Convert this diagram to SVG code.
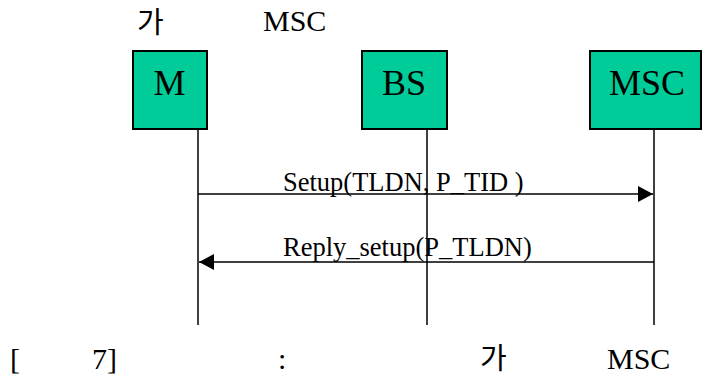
<svg xmlns="http://www.w3.org/2000/svg" width="709" height="380" viewBox="0 0 709 380">
<style>
.box{fill:#00CC99;stroke:#000;stroke-width:2}
.life{stroke:#000;stroke-width:1.5;fill:none}
.msg{stroke:#000;stroke-width:1.5;fill:none}
.lbl{font-family:"Liberation Serif",serif;font-size:36px;fill:#000;text-anchor:middle}
.mtxt{font-family:"Liberation Serif",serif;font-size:26.5px;fill:#000}
.cap{font-family:"Liberation Serif",serif;font-size:30px;fill:#000}
.kr{font-family:"Noto Sans CJK KR",sans-serif;font-size:29px;fill:#000}
</style>
<defs>
<marker id="ah" viewBox="0 0 15 16" refX="15" refY="8" markerWidth="15" markerHeight="16" markerUnits="userSpaceOnUse" orient="auto">
<path d="M0,0 L15,8 L0,16 Z" fill="#000"/>
</marker>
</defs>
<text class="kr" x="137" y="33">가</text>
<text class="cap" x="263" y="31">MSC</text>
<g id="node-M">
<rect class="box" x="133" y="51" width="74" height="78"/>
<text class="lbl" x="169.5" y="95" font-family="Liberation Serif, serif">M</text>
</g>
<g id="node-BS">
<rect class="box" x="362" y="51" width="85" height="78"/>
<text class="lbl" x="404" y="95" font-family="Liberation Serif, serif">BS</text>
</g>
<g id="node-MSC">
<rect class="box" x="590" y="51" width="111" height="78"/>
<text class="lbl" x="647" y="95" font-family="Liberation Serif, serif">MSC</text>
</g>
<g id="connectors">
<line class="life" x1="198" y1="130" x2="198" y2="325"/>
<line class="life" x1="427" y1="130" x2="427" y2="325"/>
<line class="life" x1="654" y1="130" x2="654" y2="325"/>
<line class="msg" x1="198" y1="194" x2="653" y2="194" marker-end="url(#ah)"/>
<line class="msg" x1="654" y1="262" x2="199" y2="262" marker-end="url(#ah)"/>
<text class="mtxt" x="283" y="191">Setup(TLDN, P_TID )</text>
<text class="mtxt" x="283" y="256">Reply_setup(P_TLDN)</text>
</g>
<text class="cap" x="10" y="369">[</text>
<text class="cap" x="92" y="369">7]</text>
<text class="cap" x="278" y="369">:</text>
<text class="kr" x="480" y="369">가</text>
<text class="cap" x="607" y="369">MSC</text>
</svg>
